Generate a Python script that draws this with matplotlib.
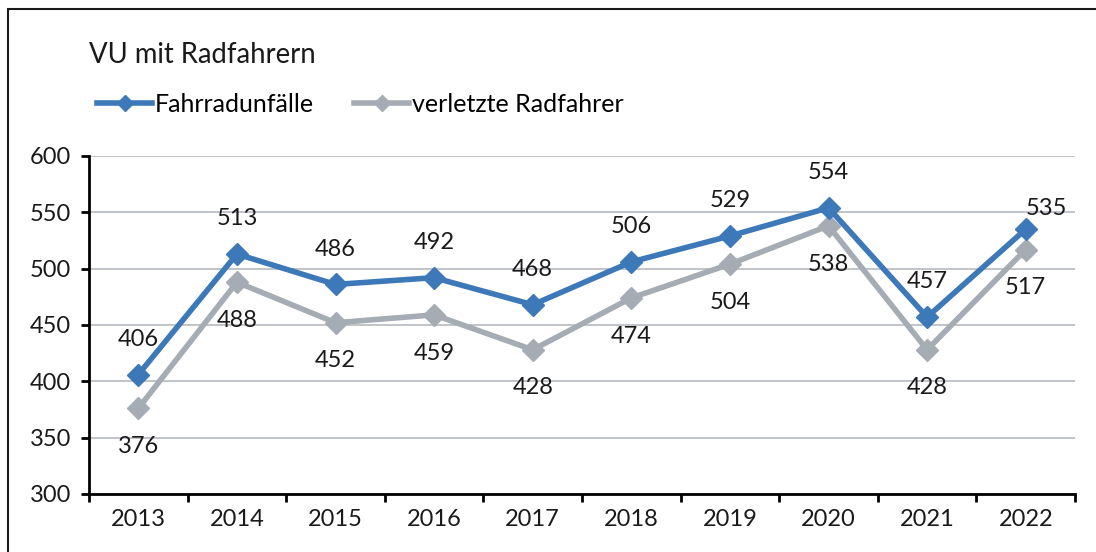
import matplotlib
matplotlib.use("Agg")
import matplotlib.pyplot as plt
from matplotlib.patches import Rectangle
from matplotlib.lines import Line2D

years = ["2013", "2014", "2015", "2016", "2017", "2018", "2019", "2020", "2021", "2022"]
unfaelle = [406, 513, 486, 492, 468, 506, 529, 554, 457, 535]
verletzte = [376, 488, 452, 459, 428, 474, 504, 538, 428, 517]
yticks = [300, 350, 400, 450, 500, 550, 600]

plt.rcParams['font.family'] = ['Lato', 'DejaVu Sans']
W, H = 1096, 552
fig = plt.figure(figsize=(W / 100, H / 100), dpi=100)

blue = "#3D78B9"
grey = "#A6ACB4"
txt = "#1a1a1a"
fs = 17

ax = fig.add_axes([89 / W, 1 - 494 / H, (1075 - 89) / W, (494 - 156) / H])
x = list(range(len(years)))
ax.plot(x, verletzte, color=grey, lw=4, marker="D", ms=11, zorder=3)
ax.plot(x, unfaelle, color=blue, lw=4, marker="D", ms=11, zorder=4)

ax.set_xlim(-0.5, len(years) - 0.5)
ax.set_ylim(300, 600)
ax.set_yticks(yticks)
ax.set_yticklabels([str(v) for v in yticks], fontsize=fs, color=txt)
ax.set_xticks(x)
ax.set_xticklabels(years, fontsize=fs, color=txt)
ax.tick_params(axis="x", length=0, pad=11)
ax.tick_params(axis="y", length=6, width=2, pad=7, direction="out")
ax.set_xticks([i - 0.5 for i in range(len(years) + 1)], minor=True)
ax.tick_params(axis="x", which="minor", length=6, width=2, direction="out")
ax.grid(axis="y", color="#B5B9BE", lw=1.2)
ax.set_axisbelow(True)
for s in ["top", "right"]:
    ax.spines[s].set_visible(False)
ax.spines["left"].set_linewidth(2)
ax.spines["bottom"].set_linewidth(2)

last = len(years) - 1
for i, (u, v) in enumerate(zip(unfaelle, verletzte)):
    off_u = (15, 15) if i == last else (0, 25.5)
    ax.annotate(str(u), (i, u), xytext=off_u, textcoords="offset points",
                ha="center", va="center", fontsize=fs, color=txt)
    ax.annotate(str(v), (i, v), xytext=(0, -27.5), textcoords="offset points",
                ha="center", va="center", fontsize=fs, color=txt)

fig.text(89 / W, 1 - 55 / H, "VU mit Radfahrern", fontsize=19.8, color=txt,
         ha="left", va="center")

handles = [Line2D([], [], color=blue, lw=4, marker="D", ms=8),
           Line2D([], [], color=grey, lw=4, marker="D", ms=8)]
fig.legend(handles, ["Fahrradunfälle", "verletzte Radfahrer"], loc="center left",
           bbox_to_anchor=(97 / W, 1 - 104 / H), ncol=2, frameon=False, fontsize=18,
           handlelength=2.2, handletextpad=0.12, columnspacing=1.6, borderaxespad=0, borderpad=0)

fig.patches.append(Rectangle((8 / W, -0.1), 1.2, 1 - 9 / H + 0.1, transform=fig.transFigure,
                             fill=False, edgecolor=txt, lw=1.5))

fig.savefig("out.png", dpi=100)
